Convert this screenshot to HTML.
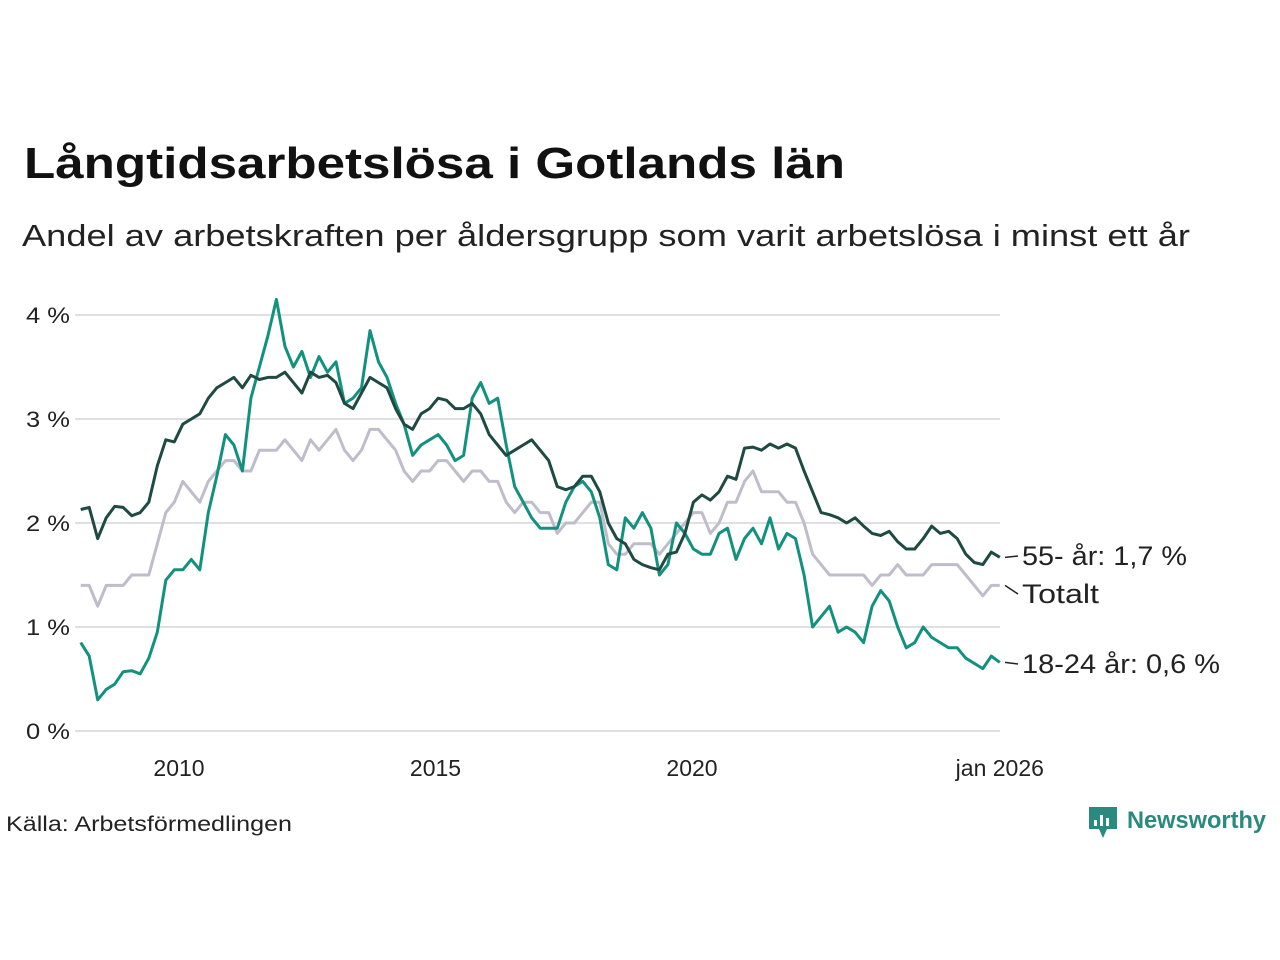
<!DOCTYPE html>
<html><head><meta charset="utf-8"><style>
body{margin:0;background:#fff;}
svg{display:block;font-family:"Liberation Sans",sans-serif;}
</style></head><body>
<svg width="1280" height="960" viewBox="0 0 1280 960">
<text x="24" y="178" font-size="44" font-weight="bold" fill="#111" textLength="821" lengthAdjust="spacingAndGlyphs">Långtidsarbetslösa i Gotlands län</text>
<text x="22" y="246" font-size="31" fill="#222" textLength="1168" lengthAdjust="spacingAndGlyphs">Andel av arbetskraften per åldersgrupp som varit arbetslösa i minst ett år</text>
<g id="grid"></g><g id="lines"></g><g id="labels"></g>
<text x="6" y="831" font-size="21" fill="#222" textLength="286" lengthAdjust="spacingAndGlyphs">Källa: Arbetsförmedlingen</text>
<g>
<path d="M1089 807h28v22h-10l-4 9-4-9h-10z" fill="#2a8a7e"/>
<rect x="1094" y="820" width="3" height="6" fill="#fff"/><rect x="1100" y="815" width="3" height="11" fill="#fff"/><rect x="1106" y="818" width="3" height="8" fill="#fff"/>
<text x="1127" y="828" font-size="24" font-weight="bold" fill="#2a8a7e" textLength="139" lengthAdjust="spacingAndGlyphs">Newsworthy</text>
</g>
</svg>
<script>
const yTicks=[0,1,2,3,4];
const yTickLabels=["0 %","1 %","2 %","3 %","4 %"];
const xTicks=[2010,2015,2020,2026];
const xTickLabels=["2010","2015","2020","jan 2026"];
const startYear=2008+1/12, endYear=2026;
const older=[2.13,2.15,1.85,2.05,2.16,2.15,2.07,2.1,2.2,2.55,2.8,2.78,2.95,3.0,3.05,3.2,3.3,3.35,3.4,3.3,3.42,3.38,3.4,3.4,3.45,3.35,3.25,3.45,3.4,3.42,3.35,3.15,3.1,3.25,3.4,3.35,3.3,3.1,2.95,2.9,3.05,3.1,3.2,3.18,3.1,3.1,3.15,3.05,2.85,2.75,2.65,2.7,2.75,2.8,2.7,2.6,2.35,2.32,2.35,2.45,2.45,2.3,2.0,1.85,1.8,1.65,1.6,1.57,1.55,1.7,1.72,1.9,2.2,2.27,2.22,2.3,2.45,2.42,2.72,2.73,2.7,2.76,2.72,2.76,2.72,2.5,2.3,2.1,2.08,2.05,2.0,2.05,1.97,1.9,1.88,1.92,1.82,1.75,1.75,1.85,1.97,1.9,1.92,1.85,1.7,1.62,1.6,1.72,1.67];
const total=[1.4,1.4,1.2,1.4,1.4,1.4,1.5,1.5,1.5,1.8,2.1,2.2,2.4,2.3,2.2,2.4,2.5,2.6,2.6,2.5,2.5,2.7,2.7,2.7,2.8,2.7,2.6,2.8,2.7,2.8,2.9,2.7,2.6,2.7,2.9,2.9,2.8,2.7,2.5,2.4,2.5,2.5,2.6,2.6,2.5,2.4,2.5,2.5,2.4,2.4,2.2,2.1,2.2,2.2,2.1,2.1,1.9,2.0,2.0,2.1,2.2,2.2,1.8,1.7,1.7,1.8,1.8,1.8,1.7,1.8,1.9,2.0,2.1,2.1,1.9,2.0,2.2,2.2,2.4,2.5,2.3,2.3,2.3,2.2,2.2,2.0,1.7,1.6,1.5,1.5,1.5,1.5,1.5,1.4,1.5,1.5,1.6,1.5,1.5,1.5,1.6,1.6,1.6,1.6,1.5,1.4,1.3,1.4,1.4];
const young=[0.85,0.72,0.3,0.4,0.45,0.57,0.58,0.55,0.7,0.95,1.45,1.55,1.55,1.65,1.55,2.1,2.45,2.85,2.75,2.5,3.2,3.5,3.8,4.15,3.7,3.5,3.65,3.4,3.6,3.45,3.55,3.15,3.2,3.3,3.85,3.55,3.4,3.15,2.95,2.65,2.75,2.8,2.85,2.75,2.6,2.65,3.2,3.35,3.15,3.2,2.75,2.35,2.2,2.05,1.95,1.95,1.95,2.2,2.35,2.4,2.3,2.05,1.6,1.55,2.05,1.95,2.1,1.95,1.5,1.6,2.0,1.9,1.75,1.7,1.7,1.9,1.95,1.65,1.85,1.95,1.8,2.05,1.75,1.9,1.85,1.5,1.0,1.1,1.2,0.95,1.0,0.95,0.85,1.2,1.35,1.25,1.0,0.8,0.85,1.0,0.9,0.85,0.8,0.8,0.7,0.65,0.6,0.72,0.66];
const seriesLabels=["55- år: 1,7 %","Totalt","18-24 år: 0,6 %"];
const NS="http://www.w3.org/2000/svg";
const xs=t=>179+(t-2010)*51.3;
const ys=v=>731-v*104;
function mk(tag,attrs,parent){const e=document.createElementNS(NS,tag);for(const k in attrs)e.setAttribute(k,attrs[k]);parent.appendChild(e);return e;}
const grid=document.getElementById('grid');
yTicks.forEach((v,i)=>{
 const l=mk('line',{x1:75,x2:1000,y1:ys(v),y2:ys(v),stroke:'#e0dfe3','stroke-width':2},grid);
 
 
 const t=mk('text',{x:70,y:ys(v)+8,'font-size':22,'text-anchor':'end',fill:'#222',textLength:44,lengthAdjust:'spacingAndGlyphs'},grid);
 t.textContent=yTickLabels[i];
 
 
});
xTicks.forEach((v,i)=>{
 const t=mk('text',{x:xs(v),y:776,'font-size':23,'text-anchor':'middle',fill:'#222'},grid);
 t.textContent=xTickLabels[i];
 
 
});
const lines=document.getElementById('lines');
function draw(arr,color,name){
 const n=arr.length;
 const pts=arr.map((v,i)=>xs(startYear+i*(endYear-startYear)/(n-1)).toFixed(1)+','+ys(v).toFixed(1)).join(' ');
 const p=mk('polyline',{points:pts,fill:'none',stroke:color,'stroke-width':3,'stroke-linejoin':'round'},lines);
 
 
}
draw(total,'#c0bdcb','line-totalt');
draw(young,'#13917f','line-18-24');
draw(older,'#1f4a42','line-55-plus');
const lab=document.getElementById('labels');
const lastVals=[older[older.length-1],total[total.length-1],young[young.length-1]];
const labY=[556,594,664];
const labW=[165,77,198];
seriesLabels.forEach((s,i)=>{
 mk('line',{x1:1005,y1:ys(lastVals[i]),x2:1018,y2:labY[i],stroke:'#222','stroke-width':1.5},lab);
 const t=mk('text',{x:1022,y:labY[i]+9,'font-size':27,fill:'#222',textLength:labW[i],lengthAdjust:'spacingAndGlyphs'},lab);
 t.textContent=s;
 
 
});
</script>
</body></html>
